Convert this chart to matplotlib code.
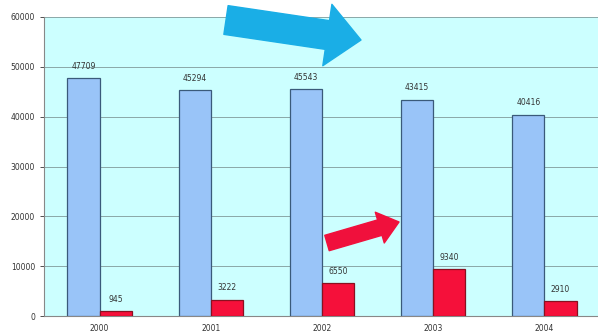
import numpy as np
import matplotlib.pyplot as plt
from matplotlib.patches import FancyArrowPatch, ArrowStyle

years = ['2000', '2001', '2002', '2003', '2004']
blue_vals = [47709, 45294, 45543, 43415, 40416]
red_vals = [945, 3222, 6550, 9340, 2910]

W, H = 598, 332
fig = plt.figure(figsize=(W / 100, H / 100), dpi=100)
ax = fig.add_axes([44 / W, 16 / H, 556 / W, 299 / H])
ax.set_facecolor('#ccffff')

x = np.arange(len(years))
bw = 0.29
ax.bar(x - bw / 2, blue_vals, bw, color='#99c4f8', edgecolor='#3a5a7a', linewidth=0.9, zorder=3)
ax.bar(x + bw / 2, red_vals, bw, color='#f5103a', edgecolor='#8a1020', linewidth=0.9, zorder=3)

for i in range(len(years)):
    ax.text(x[i] - bw / 2, blue_vals[i] + 1500, str(blue_vals[i]), ha='center', va='bottom',
            fontsize=5.5, color='#333333')
    ax.text(x[i] + bw / 2, red_vals[i] + 1500, str(red_vals[i]), ha='center', va='bottom',
            fontsize=5.5, color='#333333')

ax.set_xlim(-0.5, 4.5)
ax.set_ylim(0, 60000)
ax.set_yticks(np.arange(0, 60001, 10000))
ax.set_xticks(x)
ax.set_xticklabels(years)
ax.tick_params(axis='both', labelsize=5.5, colors='#333333', length=3, width=0.6)
ax.tick_params(axis='x', length=0, pad=6)
ax.yaxis.grid(True, color='#8aa8a8', linewidth=0.7, zorder=1)
for s in ['top', 'right']:
    ax.spines[s].set_visible(False)
ax.spines['left'].set_color('#888888')
ax.spines['bottom'].set_color('#888888')

# trend arrows, placed in figure pixels
def arrow(p0, p1, tail, head_w, head_l, color):
    a = FancyArrowPatch((p0[0] / W, 1 - p0[1] / H), (p1[0] / W, 1 - p1[1] / H),
                        transform=fig.transFigure,
                        arrowstyle=ArrowStyle('Simple', head_length=head_l * 0.72,
                                              head_width=head_w * 0.72, tail_width=tail * 0.72),
                        color=color, mutation_scale=1, shrinkA=0, shrinkB=0, zorder=5)
    fig.patches.append(a)

arrow((226, 20), (361, 40), 29, 62, 34, '#1aaee6')
arrow((327, 243), (399, 222), 16, 32, 20, '#f0103c')

fig.savefig('out.png', dpi=100)
